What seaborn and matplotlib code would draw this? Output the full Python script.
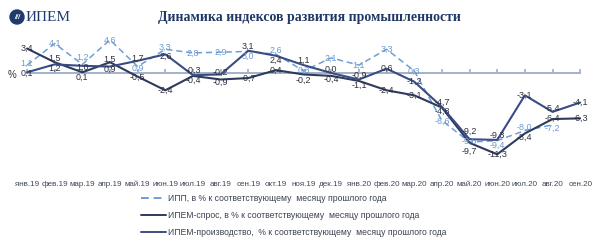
import matplotlib
matplotlib.use("Agg")
import matplotlib.pyplot as plt
import seaborn as sns
import pandas as pd
import numpy as np
from matplotlib.patches import Ellipse

# ---------------- data ----------------
months = ["янв.19", "фев.19", "мар.19", "апр.19", "май.19", "июн.19", "июл.19",
          "авг.19", "сен.19", "окт.19", "ноя.19", "дек.19", "янв.20", "фев.20",
          "мар.20", "апр.20", "май.20", "июн.20", "июл.20", "авг.20", "сен.20"]
ipp = [1.1, 4.1, 1.2, 4.6, 0.9, 3.3, 2.8, 2.9, 3.0, 2.6, 0.3, 2.1, 1.1, 3.3,
       0.3, -6.6, -9.6, -9.4, -8.0, -7.2, np.nan]
spros = [3.4, 1.5, 0.1, 1.5, -0.5, -2.4, -0.4, -0.9, -0.7, 0.4, -0.2, -0.4,
         -1.1, -2.4, -3.1, -4.8, -9.7, -11.3, -8.4, -6.4, -6.3]
proizv = [0.1, 1.2, 1.0, 0.9, 1.7, 2.6, -0.3, -0.2, 3.1, 2.4, 1.1, 0.0, -0.9,
          0.6, -1.2, -4.7, -9.2, -9.3, -3.1, -5.4, -4.1]

names = ["ИПП, в % к соответствующему  месяцу прошлого года",
         "ИПЕМ-спрос, в % к соответствующему  месяцу прошлого года",
         "ИПЕМ-производство,  % к соответствующему  месяцу прошлого года"]
series_vals = [ipp, spros, proizv]

line_colors = ["#6E9ED6", "#2E3B5C", "#3A4C85"]
label_colors = ["#6A98D0", "#2B2F3A", "#2B2F3A"]

rows = []
for name, vals in zip(names, series_vals):
    for i, v in enumerate(vals):
        rows.append({"x": i, "value": v, "series": name})
df = pd.DataFrame(rows)

# ---------------- plot ----------------
sns.set_theme(style="white")
plt.rcParams["font.family"] = ["Liberation Sans", "DejaVu Sans"]

fig = plt.figure(figsize=(6, 2.5), dpi=100)
AX_H = 0.59
YLIM = (-14, 6.5)
ax = fig.add_axes([0.022, 0.305, 0.968, AX_H])

sns.lineplot(data=df.dropna(), x="x", y="value", hue="series", style="series",
             hue_order=names, style_order=names,
             palette=dict(zip(names, line_colors)),
             dashes={names[0]: (4, 2.5), names[1]: "", names[2]: ""},
             linewidth=1.4, sort=False, ax=ax)
for ln, lw in zip(ax.lines[:3], [1.1, 1.5, 1.5]):
    ln.set_linewidth(lw)

# data labels: spread vertically per month so they do not collide
px_per_unit = AX_H * 250 / (YLIM[1] - YLIM[0])
gap = 9.8 / px_per_unit
for i in range(len(months)):
    items = [(vals[i], k) for k, vals in enumerate(series_vals)
             if not np.isnan(vals[i])]
    items.sort(key=lambda t: -t[0])
    pos = [t[0] for t in items]
    for _ in range(100):
        for j in range(1, len(pos)):
            d = pos[j - 1] - pos[j]
            if d < gap:
                shift = (gap - d) / 2
                pos[j - 1] += shift
                pos[j] -= shift
    for (v, k), p in zip(items, pos):
        ax.text(i, p, f"{v:.1f}".replace(".", ","), ha="center", va="center",
                fontsize=6.4, color=label_colors[k], zorder=5)

ax.set_xlim(-0.5, 20.5)
ax.set_ylim(*YLIM)
ax.set_xlabel("")
ax.set_ylabel("")
ax.set_yticks([])
for s in ["top", "right", "left"]:
    ax.spines[s].set_visible(False)
ax.spines["bottom"].set_position(("data", 0))
ax.spines["bottom"].set_bounds(0, 20)
ax.spines["bottom"].set_color("#A3B1CA")
ax.spines["bottom"].set_linewidth(1.4)
ax.spines["bottom"].set_zorder(1)
ax.set_xticks(range(len(months)))
ax.tick_params(axis="x", direction="in", length=3, color="#A3B1CA",
               labelbottom=False, bottom=True)
ax.patch.set_alpha(0)

sec = ax.secondary_xaxis("bottom")
sec.set_xticks(range(len(months)), labels=months)
sec.tick_params(length=0, labelsize=5.8, colors="#3F4756", pad=5)
sec.spines["bottom"].set_visible(False)

handles, labels = ax.get_legend_handles_labels()
ax.legend_.remove()
leg = fig.legend(handles, labels, loc="upper left", bbox_to_anchor=(0.23, 0.238),
                 frameon=False, fontsize=6.2, handlelength=2.8, handletextpad=0.3,
                 labelspacing=0.95, borderaxespad=0)
for t in leg.get_texts():
    t.set_color("#3A4150")

fig.text(8 / 600, 1 - 75 / 250, "%", fontsize=7, color="#333333", va="center")

fig.text(0.515, 1 - 17 / 250, "Динамика индексов развития промышленности",
         ha="center", va="center", fontsize=10, fontweight="bold",
         family="Liberation Serif", color="#1F3864")

fig.patches.append(Ellipse((17 / 600, 1 - 17 / 250), 14 / 600, 14 / 250,
                           transform=fig.transFigure, color="#1F3A6E"))
fig.text(17 / 600, 1 - 17 / 250, "///", ha="center", va="center", fontsize=5,
         color="white", fontweight="bold", style="italic")
fig.text(26 / 600, 1 - 17 / 250, "ИПЕМ", fontsize=11, family="Liberation Serif",
         color="#1F3A6E", va="center")

fig.savefig("out.png", dpi=100)
